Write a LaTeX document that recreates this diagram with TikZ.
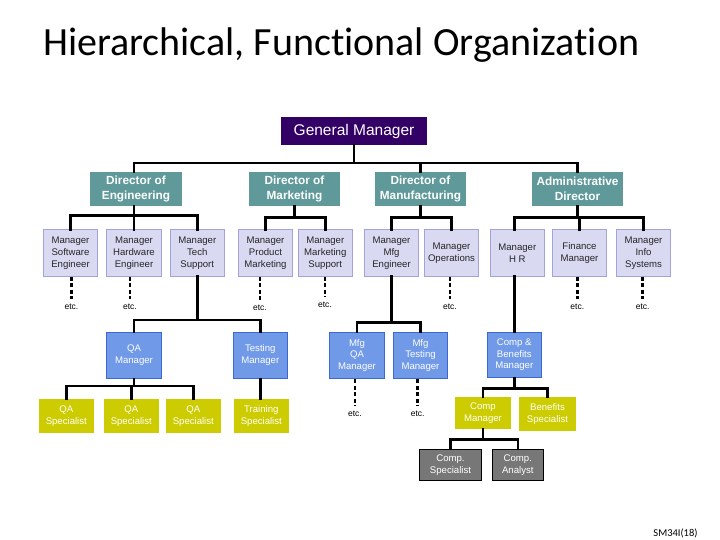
\documentclass[tikz,border=0pt]{standalone}
\usepackage{fontspec}
\setmainfont{Liberation Sans}
\newfontfamily\titlefont[Ligatures=NoCommon]{Carlito}
\usetikzlibrary{calc}
\definecolor{gmpurple}{HTML}{330066}
\definecolor{teal1}{HTML}{5F9999}
\definecolor{lavfill}{HTML}{D9D9F2}
\definecolor{lavline}{HTML}{A3A3D9}
\definecolor{bluefill}{HTML}{7099E8}
\definecolor{blueline}{HTML}{3A6AD0}
\definecolor{yel}{HTML}{CCCC00}
\definecolor{grayfill}{HTML}{777777}
\tikzset{
  box/.style={rectangle, inner sep=0pt, align=center, minimum width=54.5pt, minimum height=46pt},
  gmbox/.style={box, fill=gmpurple, text=white, font=\fontsize{15.5}{18}\selectfont, minimum width=146pt, minimum height=28pt},
  dirbox/.style={box, fill=teal1, text=white, font=\bfseries\fontsize{11.8}{15}\selectfont, minimum width=91pt, minimum height=34pt},
  mgrbox/.style={box, fill=lavfill, draw=lavline, line width=1pt, text=black!85, font=\fontsize{9.6}{12}\selectfont},
  bluebox/.style={box, fill=bluefill, draw=blueline, line width=1pt, text=white, font=\fontsize{9.6}{11.7}\selectfont},
  yelbox/.style={box, fill=yel, text=white, font=\fontsize{9.6}{11.7}\selectfont, minimum height=33.7pt, minimum width=54.7pt},
  graybox/.style={box, fill=grayfill, draw=black, line width=1pt, text=white, font=\fontsize{9.6}{11.7}\selectfont, minimum height=30.6pt},
  etcnode/.style={inner sep=0pt, font=\fontsize{8.5}{10}\selectfont},
  conn/.style={line width=2.5pt, line cap=rect},
  dots/.style={line width=2.5pt, dash pattern=on 4pt off 2.5pt},
}
\begin{document}
\begin{tikzpicture}[x=1pt,y=-1pt]
\useasboundingbox[fill=white] (0,0) rectangle (720,540);
% title
\node[anchor=base west, inner sep=0pt, font=\titlefont\fontsize{40}{44}\selectfont] (title) at (43,56) {Hierarchical, Functional Organization};
\node[anchor=center, inner sep=0pt, font=\titlefont\fontsize{10.5}{12}\selectfont] (slide) at (675.5,533) {SM34I(18)};
% level 1 and 2
\node[gmbox] (gm) at (354,131) {General Manager};
\node[dirbox, minimum width=92pt] (deng) at (136,189) {Director of\\Engineering};
\node[dirbox] (dmkt) at (294.5,189) {Director of\\Marketing};
\node[dirbox] (dmfg) at (420.5,189) {Director of\\Manufacturing};
\node[dirbox] (dadm) at (577.5,189) {Administrative\\Director};
% level 3
\node[mgrbox] (sw) at (70.5,253) {Manager\\Software\\Engineer};
\node[mgrbox, minimum width=55.4pt] (hw) at (134,253) {Manager\\Hardware\\Engineer};
\node[mgrbox] (ts) at (197.3,253) {Manager\\Tech\\Support};
\node[mgrbox] (pm) at (265.5,253) {Manager\\Product\\Marketing};
\node[mgrbox] (ms) at (325.3,253) {Manager\\Marketing\\Support};
\node[mgrbox] (me) at (391.5,253) {Manager\\Mfg\\Engineer};
\node[mgrbox] (op) at (451.5,253) {Manager\\Operations};
\node[mgrbox] (hr) at (517.3,253) {Manager\\H R};
\node[mgrbox] (fm) at (579.5,253) {Finance\\Manager};
\node[mgrbox] (is) at (643.5,253) {Manager\\Info\\Systems};
% etc under level 3
\node[etcnode] (e1) at (71.5,306.7) {etc.};
\node[etcnode] (e2) at (130,307) {etc.};
\node[etcnode] (e3) at (260,308) {etc.};
\node[etcnode] (e4) at (325,305) {etc.};
\node[etcnode] (e5) at (450,306.7) {etc.};
\node[etcnode] (e6) at (577.3,306.5) {etc.};
\node[etcnode] (e7) at (642.7,306.5) {etc.};
% level 4 (blue)
\node[bluebox, minimum width=55.4pt] (qa) at (134,355.3) {QA\\Manager};
\node[bluebox, minimum width=54pt] (tm) at (260.3,355.3) {Testing\\Manager};
\node[bluebox, minimum width=55.4pt] (mqa) at (357,355.5) {Mfg\\QA\\Manager};
\node[bluebox, minimum width=54.4pt] (mtm) at (420.5,355.5) {Mfg\\Testing\\Manager};
\node[bluebox, minimum width=54pt, minimum height=45pt] (cb) at (514.3,354.8) {Comp \&\\Benefits\\Manager};
\node[etcnode] (e8) at (355,413.3) {etc.};
\node[etcnode] (e9) at (417.7,413.3) {etc.};
% level 5 (yellow)
\node[yelbox] (qs1) at (66.3,415.8) {QA\\Specialist};
\node[yelbox] (qs2) at (131.3,415.8) {QA\\Specialist};
\node[yelbox] (qs3) at (193.3,415.8) {QA\\Specialist};
\node[yelbox] (trs) at (261.3,415.8) {Training\\Specialist};
\node[yelbox, minimum width=55.4pt, minimum height=32.3pt] (cm) at (483,413.2) {Comp\\Manager};
\node[yelbox, minimum width=56.4pt, minimum height=33.4pt] (bs) at (547.5,414) {Benefits\\Specialist};
% level 6 (gray)
\node[graybox, minimum width=62.4pt] (cs) at (450.5,465) {Comp.\\Specialist};
\node[graybox, minimum width=51pt] (ca) at (517.8,465) {Comp.\\Analyst};
% bus levels
\coordinate (busA) at (0,163);
\coordinate (busE) at (0,215.3);
\coordinate (busM) at (0,217.7);
\coordinate (busT) at (0,320);
\coordinate (busQ) at (0,386);
\coordinate (busF) at (0,322.7);
\coordinate (busC) at (0,388.7);
\coordinate (busG) at (0,439.7);
% connectors: GM to directors
\draw[conn] (gm.south) -- (gm.south |- busA);
\draw[conn] (deng.north -| hw.north) -- (hw.north |- busA) -- (dadm.north |- busA) -- (dadm.north);
\draw[conn] (dmfg.north) -- (dmfg.north |- busA);
% engineering
\draw[conn] (deng.south -| hw.north) -- (hw.north);
\draw[conn] (sw.north) -- (sw.north |- busE) -- (ts.north |- busE) -- (ts.north);
% marketing
\draw[conn] (dmkt.south) -- (dmkt.south |- busM);
\draw[conn] (pm.north) -- (pm.north |- busM) -- (ms.north |- busM) -- (ms.north);
% manufacturing
\draw[conn] (dmfg.south) -- (dmfg.south |- busM);
\draw[conn] (me.north) -- (me.north |- busM) -- (op.north |- busM) -- (op.north);
% admin
\draw[conn] (dadm.south) -- (dadm.south |- busM);
\draw[conn] (hr.north -| cb.north) -- (cb.north |- busM) -- (is.north |- busM) -- (is.north);
\draw[conn] (fm.north) -- (fm.north |- busM);
% dotted etc lines
\foreach \b/\e in {sw/e1, hw/e2, pm/e3, ms/e4, op/e5, fm/e6, is/e7, mqa/e8, mtm/e9}
  \draw[dots] (\b.south -| \e.north) -- ([yshift=5pt]\e.north);
% tech support to QA / testing
\draw[conn] (ts.south) -- (ts.south |- busT);
\draw[conn] (qa.north) -- (qa.north |- busT) -- (tm.north |- busT) -- (tm.north);
\draw[conn] (qa.south) -- (qa.south |- busQ);
\draw[conn] (qs1.north) -- (qs1.north |- busQ) -- (qs3.north |- busQ) -- (qs3.north);
\draw[conn] (qs2.north) -- (qs2.north |- busQ);
\draw[conn] (tm.south) -- (tm.south |- trs.north);
% mfg engineer
\draw[conn] (me.south) -- (me.south |- busF);
\draw[conn] (mqa.north) -- (mqa.north |- busF) -- (mtm.north |- busF) -- (mtm.north);
% HR to comp & benefits
\draw[conn] (hr.south -| cb.north) -- (cb.north);
\draw[conn] (cb.south) -- (cb.south |- busC);
\draw[conn] (cm.north) -- (cm.north |- busC) -- (bs.north |- busC) -- (bs.north);
\draw[conn] (cm.south) -- (cm.south |- busG);
\draw[conn] (cs.north) -- (cs.north |- busG) -- (ca.north |- busG) -- (ca.north);
\end{tikzpicture}
\end{document}
